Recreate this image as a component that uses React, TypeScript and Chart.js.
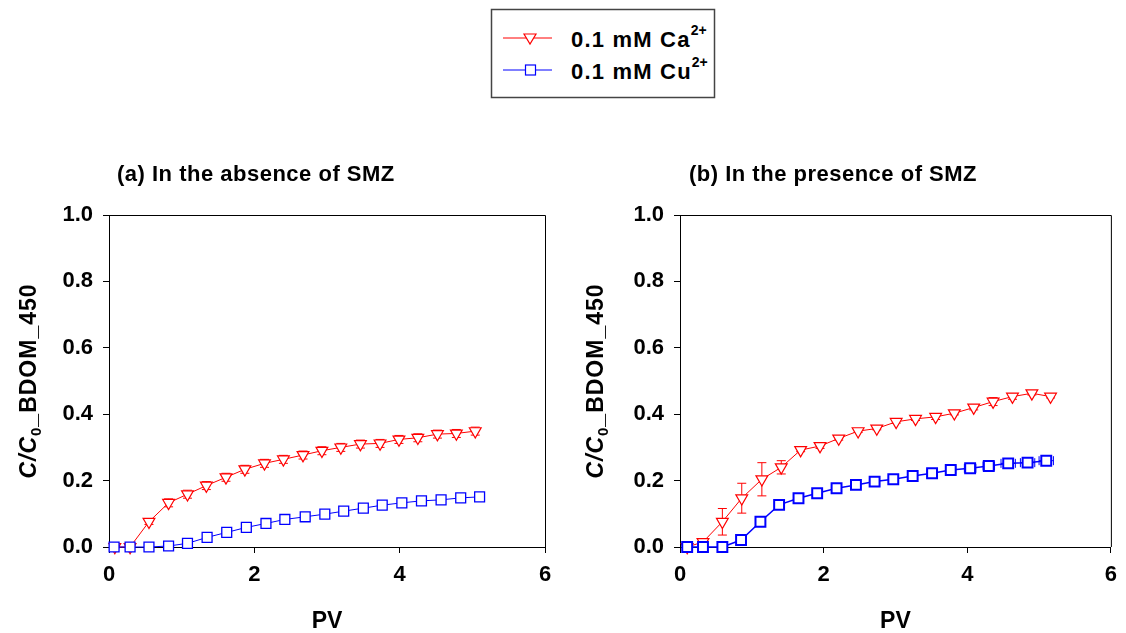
import React, { useEffect, useRef } from "react";
import { Chart, registerables } from "chart.js";

Chart.register(...registerables);

const FONT = '"Liberation Sans", Arial, sans-serif';
const RED = "#ff0000";
const BLUE = "#0000ff";

// ---- Panel (a): in the absence of SMZ ----
const caPvA = [0.08, 0.29, 0.55, 0.82, 1.08, 1.34, 1.61, 1.87, 2.14, 2.40, 2.67, 2.93, 3.19, 3.46, 3.73, 3.99, 4.25, 4.52, 4.78, 5.04];
const caValA = [0, 0, 0.076, 0.133, 0.159, 0.185, 0.21, 0.234, 0.252, 0.264, 0.277, 0.29, 0.30, 0.31, 0.312, 0.324, 0.329, 0.34, 0.342, 0.349];
const caErrA = [0.004, 0.004, 0.008, 0.012, 0.012, 0.012, 0.012, 0.012, 0.012, 0.012, 0.012, 0.012, 0.012, 0.012, 0.012, 0.012, 0.012, 0.012, 0.012, 0.012];
const cuPvA = [0.07, 0.29, 0.55, 0.82, 1.08, 1.35, 1.62, 1.89, 2.16, 2.42, 2.70, 2.97, 3.23, 3.50, 3.76, 4.03, 4.30, 4.57, 4.84, 5.10];
const cuValA = [0, 0, 0, 0.003, 0.011, 0.029, 0.044, 0.059, 0.071, 0.083, 0.091, 0.099, 0.108, 0.117, 0.126, 0.133, 0.139, 0.142, 0.148, 0.151];
const cuErrA = [0.003, 0.003, 0.003, 0.003, 0.003, 0.003, 0.003, 0.003, 0.003, 0.003, 0.003, 0.003, 0.003, 0.003, 0.003, 0.003, 0.003, 0.003, 0.003, 0.003];

// ---- Panel (b): in the presence of SMZ ----
const caPvB = [0.10, 0.32, 0.59, 0.86, 1.14, 1.41, 1.68, 1.95, 2.21, 2.48, 2.74, 3.01, 3.28, 3.56, 3.82, 4.09, 4.36, 4.63, 4.90, 5.16];
const caValB = [0, 0.015, 0.076, 0.147, 0.204, 0.24, 0.292, 0.304, 0.327, 0.349, 0.357, 0.377, 0.386, 0.392, 0.403, 0.42, 0.438, 0.453, 0.463, 0.453];
const caErrB = [0.003, 0.008, 0.04, 0.045, 0.05, 0.02, 0.005, 0.007, 0.005, 0.004, 0.004, 0.004, 0.005, 0.008, 0.005, 0.007, 0.012, 0.008, 0.005, 0.004];
const cuPvB = [0.10, 0.32, 0.59, 0.85, 1.12, 1.38, 1.65, 1.91, 2.18, 2.45, 2.71, 2.97, 3.24, 3.51, 3.77, 4.04, 4.30, 4.57, 4.84, 5.10];
const cuValB = [0, 0, 0, 0.021, 0.076, 0.127, 0.147, 0.162, 0.177, 0.187, 0.197, 0.204, 0.214, 0.222, 0.232, 0.237, 0.244, 0.252, 0.254, 0.26];
const cuErrB = [0.01, 0.01, 0.01, 0.012, 0.01, 0.01, 0.012, 0.01, 0.01, 0.01, 0.01, 0.01, 0.01, 0.01, 0.01, 0.008, 0.008, 0.008, 0.008, 0.008];
const cuXErrB = [0, 0, 0, 0.03, 0.02, 0.04, 0.03, 0.04, 0.04, 0.05, 0.06, 0.05, 0.06, 0.07, 0.07, 0.08, 0.08, 0.1, 0.1, 0.1];

const xTickStep = 2;
const yTickStep = 0.2;

const legendLabels = ["0.1 mM Ca", "0.1 mM Cu"];
const legendSup = "2+";

const titleA = "(a) In the absence of SMZ";
const titleB = "(b) In the presence of SMZ";
const xTitle = "PV";

function pts(xs: number[], ys: number[]) {
  return xs.map((x, i) => ({ x, y: ys[i] }));
}

function makePlugin(title: string, titleX: number, yLabelX: number) {
  return {
    id: "panelDeco",
    beforeDatasetsDraw(chart: any) {
      const ctx = chart.ctx;
      const xs = chart.scales.x;
      const ys = chart.scales.y;
      chart.data.datasets.forEach((ds: any, di: number) => {
        const meta = chart.getDatasetMeta(di);
        ctx.save();
        ctx.strokeStyle = ds.borderColor;
        ctx.lineWidth = 1;
        meta.data.forEach((el: any, i: number) => {
          const p = ds.data[i];
          const ey = ds.errY ? ds.errY[i] : 0;
          const ex = ds.errX ? ds.errX[i] : 0;
          const cap = 4.5;
          if (ey) {
            const y1 = ys.getPixelForValue(p.y + ey);
            const y2 = ys.getPixelForValue(p.y - ey);
            ctx.beginPath();
            ctx.moveTo(el.x, y1);
            ctx.lineTo(el.x, y2);
            ctx.moveTo(el.x - cap, y1);
            ctx.lineTo(el.x + cap, y1);
            ctx.moveTo(el.x - cap, y2);
            ctx.lineTo(el.x + cap, y2);
            ctx.stroke();
          }
          if (ex) {
            const x1 = xs.getPixelForValue(p.x - ex);
            const x2 = xs.getPixelForValue(p.x + ex);
            ctx.beginPath();
            ctx.moveTo(x1, el.y);
            ctx.lineTo(x2, el.y);
            ctx.moveTo(x1, el.y - cap);
            ctx.lineTo(x1, el.y + cap);
            ctx.moveTo(x2, el.y - cap);
            ctx.lineTo(x2, el.y + cap);
            ctx.stroke();
          }
        });
        ctx.restore();
      });
    },
    afterDraw(chart: any) {
      const ctx = chart.ctx;
      const a = chart.chartArea;
      ctx.save();
      ctx.strokeStyle = "#000";
      ctx.lineWidth = 1;
      ctx.beginPath();
      ctx.moveTo(a.left, a.top + 0.5);
      ctx.lineTo(a.right + 0.5, a.top + 0.5);
      ctx.lineTo(a.right + 0.5, a.bottom);
      ctx.stroke();

      ctx.fillStyle = "#000";
      ctx.font = `bold 22px ${FONT}`;
      (ctx as any).letterSpacing = "0.5px";
      ctx.textAlign = "left";
      ctx.textBaseline = "alphabetic";
      ctx.fillText(title, titleX, 181);

      ctx.font = `bold 23px ${FONT}`;
      (ctx as any).letterSpacing = "0px";
      ctx.textAlign = "center";
      ctx.fillText(xTitle, (a.left + a.right) / 2, 628);

      const segs = [
        { t: "C/C", f: `italic bold 23px ${FONT}`, dy: 0 },
        { t: "0", f: `bold 15px ${FONT}`, dy: 5 },
        { t: "_BDOM_450", f: `bold 23px ${FONT}`, dy: 0 },
      ];
      (ctx as any).letterSpacing = "1px";
      let total = 0;
      const widths = segs.map((s) => {
        ctx.font = s.f;
        const w = ctx.measureText(s.t).width;
        total += w;
        return w;
      });
      ctx.translate(yLabelX, (a.top + a.bottom) / 2);
      ctx.rotate(-Math.PI / 2);
      ctx.textAlign = "left";
      let cx = -total / 2;
      segs.forEach((s, i) => {
        ctx.font = s.f;
        ctx.fillText(s.t, cx, 8 + s.dy);
        cx += widths[i];
      });
      ctx.restore();
    },
  };
}

function makeConfig(opts: {
  caPv: number[]; caVal: number[]; caErr: number[];
  cuPv: number[]; cuVal: number[]; cuErr: number[]; cuXErr?: number[];
  yWidth: number; rightPad: number; title: string; titleX: number; yLabelX: number; cuBorder: number; cuLine: number;
}) {
  const tickFont = { family: FONT, size: 22, weight: "bold" as const };
  return {
    type: "line" as const,
    data: {
      datasets: [
        {
          label: "0.1 mM Cu2+",
          data: pts(opts.cuPv, opts.cuVal),
          errY: opts.cuErr,
          errX: opts.cuXErr,
          borderColor: BLUE,
          backgroundColor: "#fff",
          borderWidth: opts.cuLine,
          pointStyle: "rect",
          pointRadius: 7,
          pointBorderWidth: opts.cuBorder,
          pointBackgroundColor: "#fff",
          pointBorderColor: BLUE,
          tension: 0,
          clip: false,
        },
        {
          label: "0.1 mM Ca2+",
          data: pts(opts.caPv, opts.caVal),
          errY: opts.caErr,
          borderColor: RED,
          backgroundColor: "#fff",
          borderWidth: 1,
          pointStyle: "triangle",
          pointRotation: 180,
          pointRadius: 6.8,
          pointBorderWidth: 1.2,
          pointBackgroundColor: "#fff",
          pointBorderColor: RED,
          tension: 0,
          clip: false,
        },
      ],
    },
    options: {
      animation: false,
      responsive: false,
      maintainAspectRatio: false,
      layout: { padding: { left: 0, right: opts.rightPad, top: 215, bottom: 0 } },
      plugins: { legend: { display: false }, tooltip: { enabled: false }, title: { display: false } },
      scales: {
        x: {
          type: "linear",
          min: 0,
          max: 6,
          ticks: { stepSize: xTickStep, font: tickFont, color: "#000", padding: 9, maxRotation: 0, autoSkip: false },
          grid: { drawOnChartArea: false, drawTicks: true, tickLength: 6, color: "#000", lineWidth: 1 },
          border: { display: true, color: "#000", width: 1 },
          afterFit: (s: any) => { s.height = 86; },
        },
        y: {
          type: "linear",
          min: 0,
          max: 1,
          ticks: {
            stepSize: yTickStep,
            font: tickFont,
            color: "#000",
            padding: 10,
            callback: (v: any) => Number(v).toFixed(1),
          },
          grid: { drawOnChartArea: false, drawTicks: true, tickLength: 6, color: "#000", lineWidth: 1 },
          border: { display: true, color: "#000", width: 1 },
          afterFit: (s: any) => { s.width = opts.yWidth; },
        },
      },
    },
    plugins: [makePlugin(opts.title, opts.titleX, opts.yLabelX)],
  };
}

function Panel(props: { config: any; left: number }) {
  const ref = useRef<HTMLCanvasElement | null>(null);
  useEffect(() => {
    if (!ref.current) return;
    const chart = new Chart(ref.current, props.config);
    return () => chart.destroy();
  }, []);
  return (
    <canvas
      ref={ref}
      width={563}
      height={633}
      style={{ position: "absolute", left: props.left, top: 0, width: 563, height: 633, display: "block" }}
    />
  );
}

function Legend() {
  const rows = [
    { y: 38, base: 47, color: RED, kind: "tri", label: legendLabels[0] },
    { y: 70, base: 79, color: BLUE, kind: "sq", label: legendLabels[1] },
  ];
  return (
    <svg width={1126} height={110} style={{ position: "absolute", left: 0, top: 0 }}>
      <rect x={491.5} y={9.5} width={223} height={88} fill="#fff" stroke="#444" strokeWidth={1.5} />
      {rows.map((r, i) => (
        <g key={i}>
          <line x1={503} y1={r.y} x2={552} y2={r.y} stroke={r.color} strokeWidth={1} />
          {r.kind === "tri" ? (
            <polygon
              points={`${530 - 6},${r.y - 4} ${530 + 6},${r.y - 4} 530,${r.y + 6}`}
              fill="#fff"
              stroke={r.color}
              strokeWidth={1.2}
            />
          ) : (
            <rect x={525.5} y={r.y - 5} width={10} height={10} fill="#fff" stroke={r.color} strokeWidth={1.2} />
          )}
          <text
            x={571}
            y={r.base}
            fontFamily={FONT}
            fontWeight="bold"
            fontSize={22}
            letterSpacing={1.2}
            fill="#000"
          >
            {r.label}
            <tspan fontSize={14} dy={-12} letterSpacing={0}>{legendSup}</tspan>
          </text>
        </g>
      ))}
    </svg>
  );
}

export default function App() {
  const cfgA = makeConfig({
    caPv: caPvA, caVal: caValA, caErr: caErrA,
    cuPv: cuPvA, cuVal: cuValA, cuErr: cuErrA,
    yWidth: 109, rightPad: 18, title: titleA, titleX: 117, yLabelX: 28, cuBorder: 1.3, cuLine: 1,
  });
  const cfgB = makeConfig({
    caPv: caPvB, caVal: caValB, caErr: caErrB,
    cuPv: cuPvB, cuVal: cuValB, cuErr: cuErrB, cuXErr: cuXErrB,
    yWidth: 117, rightPad: 10, title: titleB, titleX: 126, yLabelX: 32, cuBorder: 2, cuLine: 1.5,
  });
  return (
    <div style={{ position: "absolute", left: 0, top: 0, width: 1126, height: 633, background: "#fff", overflow: "hidden" }}>
      <Panel config={cfgA} left={0} />
      <Panel config={cfgB} left={563} />
      <Legend />
    </div>
  );
}
